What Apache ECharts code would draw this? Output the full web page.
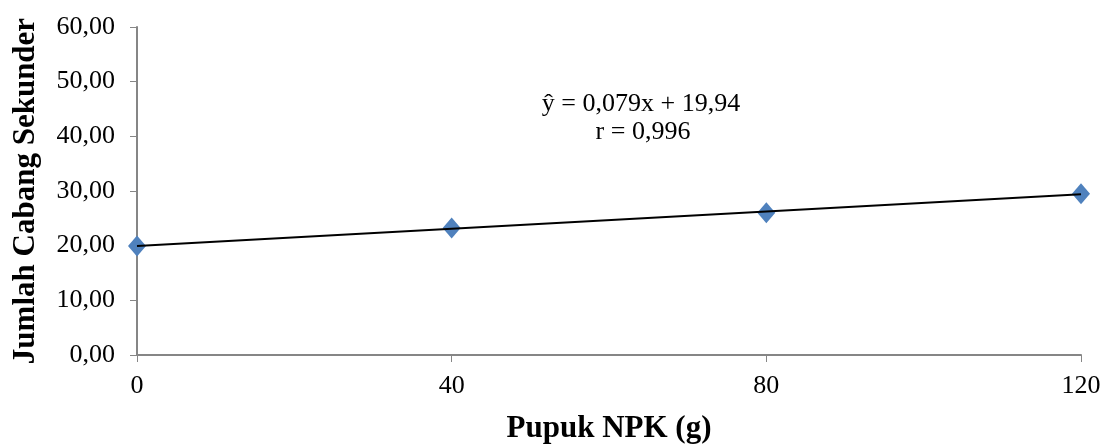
<!DOCTYPE html>
<html>
<head>
<meta charset="utf-8">
<script src="https://cdn.jsdelivr.net/npm/echarts@6/dist/echarts.min.js"></script>
<style>
html,body{margin:0;padding:0;background:#fff;}
#chart{width:1103px;height:444px;}
</style>
</head>
<body>
<div id="chart"></div>
<script>
const doses = [0, 40, 80, 120];
const branches = [19.93, 23.22, 26.03, 29.49];
const trendX = [0, 120];
const trendY = [19.94, 29.42];
const equationLines = ['ŷ = 0,079x + 19,94', 'r = 0,996'];
const xTitle = 'Pupuk NPK (g)';
const yTitle = 'Jumlah Cabang Sekunder';

const font = '"Liberation Serif", "Times New Roman", serif';
const chart = echarts.init(document.getElementById('chart'));
chart.setOption({
  animation: false,
  grid: {left: 137, right: 22, top: 27, bottom: 89, containLabel: false, outerBoundsMode: 'none'},
  xAxis: {
    type: 'value', min: 0, max: 120, interval: 40,
    name: xTitle, nameLocation: 'middle', nameGap: 58,
    nameTextStyle: {fontFamily: font, fontSize: 31, fontWeight: 'bold', color: '#000'},
    axisLine: {lineStyle: {color: '#868686', width: 2}},
    axisTick: {show: true, length: 7, lineStyle: {color: '#868686', width: 1}},
    axisLabel: {fontFamily: font, fontSize: 26, color: '#000', margin: 18},
    splitLine: {show: false}
  },
  yAxis: {
    type: 'value', min: 0, max: 60, interval: 10,
    name: yTitle, nameLocation: 'middle', nameGap: 96,
    nameTextStyle: {fontFamily: font, fontSize: 31, fontWeight: 'bold', color: '#000'},
    axisLine: {show: true, lineStyle: {color: '#868686', width: 2}},
    axisTick: {show: true, length: 7, lineStyle: {color: '#868686', width: 1}},
    axisLabel: {fontFamily: font, fontSize: 26, color: '#000', margin: 22,
      formatter: v => v.toFixed(2).replace('.', ',')},
    splitLine: {show: false}
  },
  series: [
    {
      type: 'scatter', symbol: 'diamond', symbolSize: [18, 21],
      itemStyle: {color: '#4F81BD', opacity: 1},
      data: doses.map((d, i) => [d, branches[i]]), z: 2
    },
    {
      type: 'line', symbol: 'none', silent: true,
      lineStyle: {color: '#000', width: 2},
      data: trendX.map((d, i) => [d, trendY[i]]), z: 3
    }
  ],
  graphic: [
    {type: 'text', x: 641, y: 104, style: {text: equationLines[0], fontFamily: font, fontSize: 26, fill: '#000', align: 'center', verticalAlign: 'middle'}},
    {type: 'text', x: 643, y: 132, style: {text: equationLines[1], fontFamily: font, fontSize: 26, fill: '#000', align: 'center', verticalAlign: 'middle'}}
  ]
});
</script>
</body>
</html>
